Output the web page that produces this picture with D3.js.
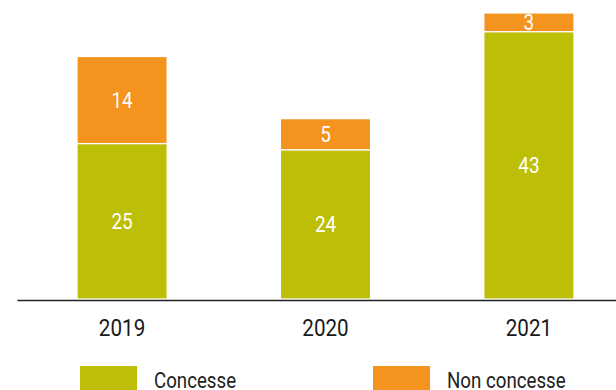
<!DOCTYPE html>
<html>
<head>
<meta charset="utf-8">
<script src="https://cdn.jsdelivr.net/npm/d3@7"></script>
<style>
  html, body { margin: 0; padding: 0; background: #fff; }
  svg { display: block; font-family: Roboto, "Noto Sans", sans-serif; }
</style>
</head>
<body>
<svg id="chart" width="616" height="390"></svg>
<script>
// Data
const years = ["2019", "2020", "2021"];
const concesse = [25, 24, 43];
const nonConcesse = [14, 5, 3];
const seriesNames = ["Concesse", "Non concesse"];
const seriesColors = ["#BDBE06", "#F4931E"];

const W = 616, H = 390;
const baseY = 299;
const svg = d3.select("#chart");

const rows = years.map((y, i) => ({ year: y, Concesse: concesse[i], "Non concesse": nonConcesse[i] }));
const stacked = d3.stack().keys(seriesNames)(rows);

const x = d3.scaleBand()
  .domain(years)
  .range([17, 634])
  .paddingInner(0.557)
  .paddingOuter(0.295);

const y = d3.scaleLinear()
  .domain([0, 46])
  .range([baseY, 13]);

const color = d3.scaleOrdinal().domain(seriesNames).range(seriesColors);

// Narrowed glyphs for a condensed look
const squeeze = 0.86;

// Stacked bars
const layer = svg.append("g")
  .selectAll("g")
  .data(stacked)
  .join("g")
  .attr("fill", d => color(d.key));

layer.selectAll("rect")
  .data(d => d)
  .join("rect")
  .attr("x", d => x(d.data.year))
  .attr("width", x.bandwidth())
  .attr("y", d => y(d[1]))
  .attr("height", d => y(d[0]) - y(d[1]))
  .attr("stroke", "#fff")
  .attr("stroke-width", 1.2);

// Value labels centred in each segment
layer.selectAll("text")
  .data(d => d.map(v => ({ v, key: d.key })))
  .join("text")
  .attr("transform", d => {
    const cx = x(d.v.data.year) + x.bandwidth() / 2;
    const cy = (y(d.v[0]) + y(d.v[1])) / 2;
    return `translate(${cx},${cy}) scale(${squeeze},1)`;
  })
  .attr("text-anchor", "middle")
  .attr("dy", "0.36em")
  .attr("fill", "#fff")
  .style("font-size", "22px")
  .text(d => d.v.data[d.key]);

// Category axis
const axis = svg.append("g")
  .attr("transform", `translate(0,${baseY + 1})`)
  .call(d3.axisBottom(x).tickSize(0).tickPadding(0));

axis.select(".domain")
  .attr("stroke", "#222")
  .attr("stroke-width", 1.3);

axis.selectAll(".tick text")
  .attr("y", 36)
  .attr("dy", 0)
  .attr("fill", "#1a1a1a")
  .attr("transform", `scale(${squeeze},1)`)
  .style("font-size", "24px")
  .style("font-family", "Roboto, sans-serif");

// Legend
const legendX = [80, 373];
const legend = svg.append("g")
  .selectAll("g")
  .data(seriesNames)
  .join("g")
  .attr("transform", (d, i) => `translate(${legendX[i]},366)`);

legend.append("rect")
  .attr("width", 57)
  .attr("height", 26)
  .attr("fill", d => color(d));

legend.append("text")
  .attr("transform", `translate(74,22) scale(0.85,1)`)
  .attr("fill", "#222")
  .style("font-size", "22px")
  .text(d => d);
</script>
</body>
</html>
